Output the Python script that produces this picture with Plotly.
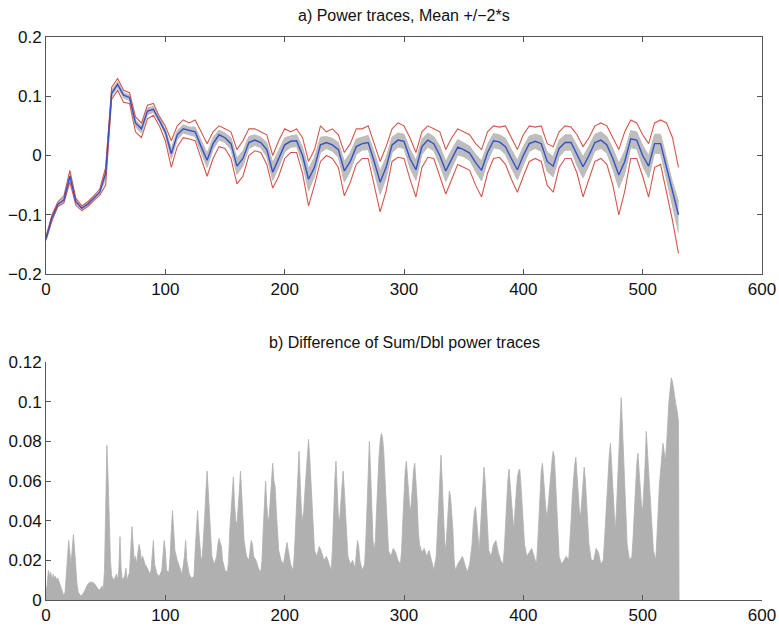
import plotly.graph_objects as go

# ---------------- data ----------------
sample_x = list(range(0, 531, 5))

mean_trace = [-0.140, -0.105, -0.082, -0.075, -0.035, -0.078, -0.089, -0.082, -0.072, -0.062,
              -0.030, 0.105, 0.120, 0.102, 0.098, 0.055, 0.045, 0.075, 0.078, 0.060,
              0.040, 0.003, 0.035, 0.045, 0.042, 0.040, 0.015, -0.008, 0.020, 0.035,
              0.030, 0.020, -0.018, -0.005, 0.022, 0.026, 0.022, 0.010, -0.028, -0.005,
              0.018, 0.024, 0.025, 0.000, -0.040, -0.020, 0.018, 0.022, 0.018, 0.010,
              -0.026, -0.010, 0.015, 0.020, 0.022, -0.010, -0.045, -0.020, 0.018, 0.026,
              0.024, -0.005, -0.024, 0.015, 0.026, 0.020, 0.000, -0.026, -0.005, 0.014,
              0.010, 0.004, -0.012, -0.025, 0.005, 0.025, 0.023, 0.015, -0.005, -0.024,
              0.000, 0.020, 0.024, 0.020, -0.010, -0.018, 0.012, 0.022, 0.022, 0.000,
              -0.019, 0.000, 0.022, 0.026, 0.018, -0.005, -0.033, -0.010, 0.028, 0.026,
              0.000, -0.018, 0.020, 0.020, -0.020, -0.065, -0.100]

upper_trace = [-0.137, -0.100, -0.078, -0.068, -0.025, -0.072, -0.085, -0.078, -0.068, -0.057,
               -0.020, 0.115, 0.130, 0.110, 0.106, 0.065, 0.055, 0.085, 0.088, 0.066,
               0.050, 0.025, 0.050, 0.060, 0.055, 0.060, 0.040, 0.020, 0.040, 0.050,
               0.045, 0.040, 0.010, 0.025, 0.045, 0.045, 0.040, 0.035, 0.000, 0.025,
               0.045, 0.040, 0.045, 0.030, -0.010, 0.010, 0.050, 0.040, 0.045, 0.035,
               0.005, 0.020, 0.045, 0.045, 0.050, 0.020, -0.010, 0.015, 0.045, 0.055,
               0.050, 0.030, 0.005, 0.040, 0.050, 0.045, 0.040, 0.010, 0.030, 0.045,
               0.040, 0.035, 0.020, 0.010, 0.040, 0.050, 0.048, 0.050, 0.030, 0.010,
               0.035, 0.050, 0.048, 0.050, 0.020, 0.015, 0.040, 0.050, 0.048, 0.035,
               0.015, 0.030, 0.050, 0.055, 0.050, 0.030, 0.010, 0.040, 0.060, 0.055,
               0.035, 0.020, 0.055, 0.060, 0.055, 0.030, -0.020]

lower_trace = [-0.143, -0.110, -0.086, -0.080, -0.045, -0.084, -0.093, -0.086, -0.076, -0.067,
               -0.050, 0.095, 0.110, 0.090, 0.088, 0.040, 0.030, 0.062, 0.068, 0.050,
               0.025, -0.020, 0.015, 0.030, 0.028, 0.025, -0.005, -0.035, -0.005, 0.015,
               0.012, -0.005, -0.048, -0.035, 0.000, 0.008, 0.005, -0.015, -0.055, -0.035,
               -0.005, 0.005, 0.005, -0.030, -0.085, -0.050, -0.010, 0.000, -0.005, -0.020,
               -0.068, -0.045, -0.015, -0.005, -0.005, -0.050, -0.095, -0.060, -0.010, -0.003,
               -0.005, -0.040, -0.070, -0.020, -0.003, -0.005, -0.035, -0.065, -0.040, -0.015,
               -0.020, -0.025, -0.050, -0.070, -0.030, -0.005, -0.003, -0.015, -0.040, -0.062,
               -0.035, -0.010, -0.005, -0.010, -0.050, -0.062, -0.020, -0.005, -0.005, -0.030,
               -0.070, -0.040, -0.010, -0.005, -0.015, -0.050, -0.100, -0.060, -0.005, -0.005,
               -0.035, -0.070, -0.020, -0.015, -0.060, -0.110, -0.165]

band_hi = [-0.138, -0.102, -0.079, -0.071, -0.030, -0.075, -0.087, -0.080, -0.070, -0.060,
           -0.025, 0.110, 0.125, 0.106, 0.102, 0.060, 0.050, 0.080, 0.083, 0.063,
           0.045, 0.012, 0.042, 0.052, 0.048, 0.048, 0.026, 0.004, 0.030, 0.043,
           0.038, 0.030, -0.004, 0.008, 0.032, 0.035, 0.031, 0.022, -0.012, 0.010,
           0.030, 0.033, 0.035, 0.014, -0.022, -0.003, 0.031, 0.032, 0.029, 0.022,
           -0.010, 0.005, 0.028, 0.031, 0.034, 0.006, -0.026, -0.003, 0.031, 0.038,
           0.036, 0.011, -0.008, 0.028, 0.038, 0.032, 0.016, -0.010, 0.010, 0.027,
           0.022, 0.016, 0.002, -0.009, 0.019, 0.037, 0.035, 0.029, 0.010, -0.008,
           0.015, 0.033, 0.036, 0.033, 0.006, -0.002, 0.026, 0.035, 0.035, 0.016,
           -0.002, 0.016, 0.036, 0.040, 0.032, 0.012, -0.013, 0.008, 0.042, 0.040,
           0.017, 0.000, 0.036, 0.036, -0.002, -0.045, -0.078]

band_lo = [-0.142, -0.108, -0.085, -0.078, -0.040, -0.081, -0.091, -0.084, -0.074, -0.064,
           -0.040, 0.100, 0.115, 0.097, 0.093, 0.048, 0.038, 0.069, 0.073, 0.056,
           0.034, -0.006, 0.027, 0.038, 0.035, 0.032, 0.005, -0.020, 0.010, 0.026,
           0.022, 0.010, -0.032, -0.018, 0.012, 0.017, 0.013, -0.002, -0.042, -0.020,
           0.006, 0.014, 0.015, -0.014, -0.060, -0.035, 0.005, 0.012, 0.007, -0.003,
           -0.045, -0.026, 0.002, 0.009, 0.010, -0.028, -0.066, -0.038, 0.005, 0.014,
           0.012, -0.021, -0.042, 0.002, 0.014, 0.008, -0.016, -0.044, -0.021, 0.001,
           -0.002, -0.008, -0.027, -0.043, -0.010, 0.013, 0.011, 0.002, -0.021, -0.041,
           -0.016, 0.007, 0.012, 0.007, -0.027, -0.036, -0.002, 0.009, 0.009, -0.017,
           -0.038, -0.017, 0.008, 0.012, 0.004, -0.023, -0.055, -0.030, 0.013, 0.011,
           -0.018, -0.038, 0.004, 0.003, -0.040, -0.088, -0.130]

# envelope of the Sum/Dbl difference traces: (sample, value)
diff_points = [
    (0, 0.004), (1, 0.008), (2, 0.015), (3, 0.012), (4, 0.014), (5, 0.010), (6, 0.013), (7, 0.011),
    (8, 0.012), (9, 0.010), (10, 0.011), (11, 0.009), (12, 0.008), (13, 0.005), (14, 0.003), (15, 0.002),
    (16, 0.004), (17, 0.012), (18, 0.022), (19, 0.030), (20, 0.024), (21, 0.018), (22, 0.026), (23, 0.033),
    (24, 0.025), (25, 0.015), (26, 0.008), (27, 0.004), (29, 0.002), (31, 0.003), (33, 0.006), (35, 0.008),
    (37, 0.009), (39, 0.009), (41, 0.008), (43, 0.006), (45, 0.005), (47, 0.007), (48, 0.005), (49, 0.015),
    (50, 0.045), (51, 0.078), (52, 0.062), (53, 0.040), (54, 0.020), (55, 0.012), (57, 0.010), (59, 0.013),
    (60, 0.010), (61, 0.015), (62, 0.032), (63, 0.015), (64, 0.010), (66, 0.012), (67, 0.016), (68, 0.010),
    (70, 0.014), (71, 0.025), (72, 0.037), (73, 0.028), (74, 0.020), (75, 0.022), (76, 0.018), (77, 0.024),
    (78, 0.028), (79, 0.025), (80, 0.020), (81, 0.022), (83, 0.018), (85, 0.016), (87, 0.013), (88, 0.015),
    (89, 0.022), (90, 0.030), (91, 0.018), (93, 0.013), (95, 0.012), (97, 0.015), (98, 0.022), (99, 0.030),
    (100, 0.025), (101, 0.015), (103, 0.014), (104, 0.022), (105, 0.035), (106, 0.045), (107, 0.035),
    (108, 0.025), (110, 0.020), (112, 0.016), (114, 0.013), (116, 0.022), (117, 0.030), (118, 0.020),
    (120, 0.013), (122, 0.011), (124, 0.012), (125, 0.025), (126, 0.038), (127, 0.045), (128, 0.035),
    (129, 0.025), (130, 0.020), (131, 0.022), (132, 0.030), (133, 0.042), (134, 0.055), (135, 0.065),
    (136, 0.055), (137, 0.042), (138, 0.030), (139, 0.022), (141, 0.018), (143, 0.022), (144, 0.028),
    (145, 0.031), (146, 0.029), (147, 0.027), (148, 0.020), (150, 0.015), (152, 0.014), (153, 0.020),
    (154, 0.035), (155, 0.045), (156, 0.055), (157, 0.062), (158, 0.048), (159, 0.040), (160, 0.038),
    (161, 0.045), (162, 0.055), (163, 0.065), (164, 0.052), (165, 0.040), (166, 0.030), (168, 0.022),
    (170, 0.020), (171, 0.025), (172, 0.030), (173, 0.028), (174, 0.022), (176, 0.020), (178, 0.016),
    (180, 0.014), (181, 0.020), (182, 0.035), (183, 0.050), (184, 0.060), (185, 0.048), (186, 0.040),
    (187, 0.042), (188, 0.052), (189, 0.062), (190, 0.069), (191, 0.060), (192, 0.057), (193, 0.045),
    (194, 0.032), (195, 0.025), (197, 0.020), (199, 0.018), (200, 0.022), (201, 0.026), (202, 0.029),
    (203, 0.025), (205, 0.018), (207, 0.015), (208, 0.022), (209, 0.035), (210, 0.048), (211, 0.062),
    (212, 0.075), (213, 0.060), (214, 0.045), (215, 0.040), (216, 0.045), (217, 0.055), (218, 0.065),
    (219, 0.075), (220, 0.081), (221, 0.072), (222, 0.060), (223, 0.045), (224, 0.032), (225, 0.025),
    (227, 0.022), (229, 0.027), (231, 0.024), (233, 0.020), (235, 0.022), (237, 0.018), (239, 0.015),
    (240, 0.025), (241, 0.045), (242, 0.060), (243, 0.070), (244, 0.055), (245, 0.042), (246, 0.040),
    (247, 0.048), (248, 0.058), (249, 0.065), (250, 0.055), (251, 0.045), (252, 0.032), (253, 0.022),
    (255, 0.018), (257, 0.020), (259, 0.016), (260, 0.022), (261, 0.030), (262, 0.027), (263, 0.020),
    (265, 0.015), (267, 0.018), (268, 0.030), (269, 0.050), (270, 0.068), (271, 0.080), (272, 0.065),
    (273, 0.045), (274, 0.030), (275, 0.025), (276, 0.030), (277, 0.045), (278, 0.060), (279, 0.072),
    (280, 0.080), (281, 0.084), (282, 0.082), (283, 0.075), (284, 0.062), (285, 0.050), (286, 0.035),
    (287, 0.025), (289, 0.022), (291, 0.026), (293, 0.024), (295, 0.020), (297, 0.018), (298, 0.025),
    (299, 0.040), (300, 0.055), (301, 0.065), (302, 0.070), (303, 0.060), (304, 0.050), (305, 0.045),
    (306, 0.048), (307, 0.058), (308, 0.065), (309, 0.069), (310, 0.060), (311, 0.050), (312, 0.035),
    (313, 0.028), (315, 0.024), (317, 0.026), (319, 0.022), (321, 0.025), (323, 0.020), (325, 0.015),
    (327, 0.022), (328, 0.035), (329, 0.050), (330, 0.065), (331, 0.073), (332, 0.060), (333, 0.045),
    (334, 0.030), (335, 0.025), (336, 0.035), (337, 0.045), (338, 0.055), (339, 0.052), (340, 0.045),
    (341, 0.035), (342, 0.020), (343, 0.015), (345, 0.018), (347, 0.020), (349, 0.022), (351, 0.018),
    (353, 0.014), (355, 0.018), (357, 0.028), (358, 0.038), (359, 0.045), (360, 0.047), (361, 0.038),
    (362, 0.030), (363, 0.025), (364, 0.035), (365, 0.048), (366, 0.060), (367, 0.067), (368, 0.060),
    (369, 0.050), (370, 0.035), (371, 0.025), (373, 0.022), (375, 0.028), (377, 0.030), (379, 0.024),
    (381, 0.020), (383, 0.018), (384, 0.025), (385, 0.038), (386, 0.050), (387, 0.060), (388, 0.066),
    (389, 0.058), (390, 0.050), (391, 0.040), (392, 0.035), (393, 0.045), (394, 0.055), (395, 0.062),
    (396, 0.065), (397, 0.066), (398, 0.058), (399, 0.048), (400, 0.035), (401, 0.028), (403, 0.022),
    (405, 0.024), (407, 0.026), (409, 0.022), (411, 0.018), (412, 0.028), (413, 0.042), (414, 0.055),
    (415, 0.065), (416, 0.069), (417, 0.060), (418, 0.052), (419, 0.045), (420, 0.042), (421, 0.050),
    (422, 0.058), (423, 0.065), (424, 0.070), (425, 0.075), (426, 0.072), (427, 0.060), (428, 0.045),
    (429, 0.030), (430, 0.022), (432, 0.018), (434, 0.020), (436, 0.022), (438, 0.020), (439, 0.028),
    (440, 0.040), (441, 0.052), (442, 0.062), (443, 0.068), (444, 0.072), (445, 0.062), (446, 0.052),
    (447, 0.045), (448, 0.042), (449, 0.050), (450, 0.060), (451, 0.067), (452, 0.060), (453, 0.050),
    (454, 0.038), (455, 0.028), (457, 0.020), (459, 0.020), (461, 0.026), (463, 0.024), (465, 0.018),
    (467, 0.020), (468, 0.030), (469, 0.042), (470, 0.055), (471, 0.065), (472, 0.073), (473, 0.079),
    (474, 0.068), (475, 0.055), (476, 0.042), (477, 0.035), (478, 0.045), (479, 0.060), (480, 0.075),
    (481, 0.090), (482, 0.102), (483, 0.088), (484, 0.072), (485, 0.055), (486, 0.040), (487, 0.028),
    (489, 0.020), (491, 0.022), (492, 0.032), (493, 0.045), (494, 0.058), (495, 0.068), (496, 0.074),
    (497, 0.065), (498, 0.055), (499, 0.048), (500, 0.045), (501, 0.055), (502, 0.068), (503, 0.085),
    (504, 0.075), (505, 0.068), (506, 0.055), (507, 0.042), (508, 0.032), (509, 0.025), (511, 0.020),
    (512, 0.030), (513, 0.045), (514, 0.058), (515, 0.065), (516, 0.072), (517, 0.079), (518, 0.075),
    (519, 0.070), (520, 0.078), (521, 0.090), (522, 0.100), (523, 0.106), (524, 0.112), (525, 0.110),
    (526, 0.106), (527, 0.100), (528, 0.098), (529, 0.095), (530, 0.090), (530.5, 0.0),
]
diff_x = [p[0] for p in diff_points]
diff_y = [p[1] for p in diff_points]

title_a = "a) Power traces, Mean +/\u22122*s"
title_b = "b) Difference of Sum/Dbl power traces"
x_ticks = [0, 100, 200, 300, 400, 500, 600]
top_y_ticks = [-0.2, -0.1, 0, 0.1, 0.2]
top_y_text = ["\u22120.2", "\u22120.1", "0", "0.1", "0.2"]
bot_y_ticks = [0, 0.02, 0.04, 0.06, 0.08, 0.1, 0.12]
bot_y_text = ["0", "0.02", "0.04", "0.06", "0.08", "0.1", "0.12"]

# ---------------- figure ----------------
GRAY_BAND = "#bdbdbd"
GRAY_DIFF = "#b0b0b0"
RED = "#d3574c"
BLUE = "#3651c9"
AXC = "#555555"
FONT = "Liberation Sans, Arial, Helvetica, sans-serif"
TXT = "#111111"

fig = go.Figure()

# top panel
fig.add_trace(go.Scatter(x=sample_x, y=band_lo, mode="lines", line=dict(color=GRAY_BAND, width=1),
                         xaxis="x", yaxis="y", showlegend=False, hoverinfo="skip"))
fig.add_trace(go.Scatter(x=sample_x, y=band_hi, mode="lines", line=dict(color=GRAY_BAND, width=1),
                         fill="tonexty", fillcolor=GRAY_BAND,
                         xaxis="x", yaxis="y", showlegend=False, hoverinfo="skip"))
fig.add_trace(go.Scatter(x=sample_x, y=upper_trace, mode="lines", line=dict(color=RED, width=1.1),
                         xaxis="x", yaxis="y", showlegend=False))
fig.add_trace(go.Scatter(x=sample_x, y=lower_trace, mode="lines", line=dict(color=RED, width=1.1),
                         xaxis="x", yaxis="y", showlegend=False))
fig.add_trace(go.Scatter(x=sample_x, y=mean_trace, mode="lines", line=dict(color=BLUE, width=1.4),
                         xaxis="x", yaxis="y", showlegend=False))

# bottom panel
fig.add_trace(go.Scatter(x=diff_x, y=diff_y, mode="lines", line=dict(color=GRAY_DIFF, width=0.8),
                         fill="tozeroy", fillcolor=GRAY_DIFF,
                         xaxis="x2", yaxis="y2", showlegend=False))

axis_common = dict(showgrid=False, zeroline=False, showline=True, linecolor=AXC, linewidth=1,
                   ticks="inside", ticklen=5, tickcolor=AXC, automargin=False,
                   tickfont=dict(family=FONT, size=17, color=TXT))

fig.update_layout(
    width=779, height=627,
    paper_bgcolor="white", plot_bgcolor="white",
    margin=dict(l=46, r=17, t=37, b=27),
    font=dict(family=FONT, size=16, color=TXT),
    xaxis=dict(domain=[0, 1], range=[0, 600], tickvals=x_ticks, anchor="y", mirror="ticks", **axis_common),
    yaxis=dict(domain=[0.579, 1.0], range=[-0.2, 0.2], tickvals=top_y_ticks, ticktext=top_y_text,
               anchor="x", mirror="ticks", **axis_common),
    xaxis2=dict(domain=[0, 1], range=[0, 600], tickvals=x_ticks, anchor="y2", mirror=False, **axis_common),
    yaxis2=dict(domain=[0, 0.4227], range=[0, 0.12], tickvals=bot_y_ticks, ticktext=bot_y_text,
                anchor="x2", mirror=False, **axis_common),
    annotations=[
        dict(text=title_a, x=0.5, y=1.039, xref="paper", yref="paper", showarrow=False,
             xanchor="center", yanchor="middle", font=dict(family=FONT, size=16, color=TXT)),
        dict(text=title_b, x=0.5, y=0.4565, xref="paper", yref="paper", showarrow=False,
             xanchor="center", yanchor="middle", font=dict(family=FONT, size=16, color=TXT)),
    ],
)

fig.write_html(
    "out.html",
    config={"displayModeBar": False},
    post_script="document.body.style.margin='0px';document.body.style.padding='0px';"
                "document.body.style.overflow='hidden';",
)
